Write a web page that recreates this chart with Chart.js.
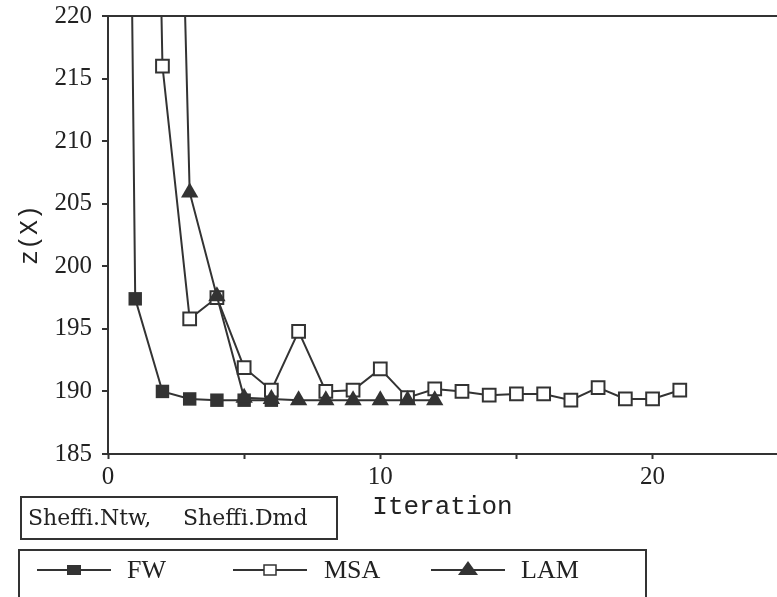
<!DOCTYPE html>
<html>
<head>
<meta charset="utf-8">
<script src="https://cdn.jsdelivr.net/npm/chart.js@4"></script>
<style>
  html, body { margin: 0; padding: 0; background: #fff; overflow: hidden; }
  #wrap { width: 777px; height: 597px; position: relative; }
  #chart { display: block; }
</style>
</head>
<body>
<div id="wrap"><canvas id="chart"></canvas></div>
<script>
// Iteration numbers and objective values z(X)
const iterFW = [0, 1, 2, 3, 4, 5, 6];
const zFW = [400, 197.4, 190.0, 189.4, 189.3, 189.3, 189.3];

const iterMSA = [1, 2, 3, 4, 5, 6, 7, 8, 9, 10, 11, 12, 13, 14, 15, 16, 17, 18, 19, 20, 21];
const zMSA = [330, 216.0, 195.8, 197.5, 191.9, 190.1, 194.8, 190.0, 190.1, 191.8, 189.5,
              190.2, 190.0, 189.7, 189.8, 189.8, 189.3, 190.3, 189.4, 189.4, 190.1];

const iterLAM = [2, 3, 4, 5, 6, 7, 8, 9, 10, 11, 12];
const zLAM = [290, 205.9, 197.6, 189.5, 189.4, 189.3, 189.3, 189.3, 189.3, 189.3, 189.3];

const xTicks = [0, 5, 10, 15, 20];
const xLabels = [0, 10, 20];
const seriesNames = ['FW', 'MSA', 'LAM'];
const caseName = ['Sheffi.Ntw,', 'Sheffi.Dmd'];

const ink = '#333';

function pts(xs, ys) {
    return xs.map((x, i) => ({ x: x, y: ys[i] }));
}

// Draws the network caption box and the legend box under the axis
const boxesPlugin = {
    id: 'boxes',
    afterDraw(chart) {
        const ctx = chart.ctx;
        ctx.save();
        ctx.strokeStyle = ink;
        ctx.lineWidth = 2;

        // caption box
        ctx.strokeRect(21, 497, 316, 42);
        ctx.fillStyle = '#222';
        ctx.font = '22px "DejaVu Serif"';
        ctx.textBaseline = 'middle';
        ctx.fillText(caseName[0], 28, 519);
        ctx.fillText(caseName[1], 183, 519);

        // legend box (runs off the bottom of the page)
        ctx.strokeRect(19, 550, 627, 80);

        const rowY = 570;
        const starts = [37, 233, 431];
        const textX = [127, 324, 521];
        chart.data.datasets.forEach((ds, i) => {
            const x0 = starts[i];
            const cx = x0 + 37;
            ctx.beginPath();
            ctx.moveTo(x0, rowY);
            ctx.lineTo(x0 + 74, rowY);
            ctx.strokeStyle = ink;
            ctx.lineWidth = 2;
            ctx.stroke();

            ctx.beginPath();
            if (ds.pointStyle === 'triangle') {
                ctx.moveTo(cx, rowY - 9);
                ctx.lineTo(cx + 10, rowY + 5);
                ctx.lineTo(cx - 10, rowY + 5);
                ctx.closePath();
                ctx.fillStyle = ink;
                ctx.fill();
            } else if (ds.pointBackgroundColor === '#fff') {
                ctx.rect(cx - 6, rowY - 5, 12, 10);
                ctx.fillStyle = '#fff';
                ctx.fill();
                ctx.lineWidth = 1.5;
                ctx.stroke();
            } else {
                ctx.rect(cx - 7, rowY - 5, 14, 10);
                ctx.fillStyle = ink;
                ctx.fill();
            }

            ctx.fillStyle = '#222';
            ctx.font = '26px "Liberation Serif"';
            ctx.textBaseline = 'middle';
            ctx.fillText(seriesNames[i], textX[i], rowY + 1);
        });
        ctx.restore();
    }
};

const chart = new Chart(document.getElementById('chart'), {
    type: 'line',
    data: {
        datasets: [
            {
                label: seriesNames[0],
                data: pts(iterFW, zFW),
                borderColor: ink,
                borderWidth: 2,
                pointStyle: 'rect',
                pointRadius: 9.5,
                pointBackgroundColor: ink,
                pointBorderColor: ink,
                pointBorderWidth: 0,
                order: 2
            },
            {
                label: seriesNames[1],
                data: pts(iterMSA, zMSA),
                borderColor: ink,
                borderWidth: 2,
                pointStyle: 'rect',
                pointRadius: 9,
                pointBackgroundColor: '#fff',
                pointBorderColor: ink,
                pointBorderWidth: 2,
                order: 1
            },
            {
                label: seriesNames[2],
                data: pts(iterLAM, zLAM),
                borderColor: ink,
                borderWidth: 2,
                pointStyle: 'triangle',
                pointRadius: 10,
                pointBackgroundColor: ink,
                pointBorderColor: ink,
                pointBorderWidth: 0,
                order: 0
            }
        ]
    },
    options: {
        responsive: true,
        maintainAspectRatio: false,
        animation: false,
        layout: { padding: 0, autoPadding: false },
        plugins: {
            legend: { display: false },
            tooltip: { enabled: false }
        },
        scales: {
            x: {
                type: 'linear',
                min: 0,
                max: 24.57,
                afterFit: s => { s.height = 143; s.paddingLeft = 0; s.paddingRight = 0; },
                afterBuildTicks: s => { s.ticks = xTicks.map(v => ({ value: v })); },
                border: { color: ink, width: 2 },
                grid: { drawOnChartArea: false, drawTicks: true, tickLength: 5, tickColor: ink, tickWidth: 2 },
                ticks: {
                    padding: 3,
                    maxRotation: 0,
                    color: '#222',
                    font: { family: '"Liberation Serif"', size: 25 },
                    callback: v => xLabels.includes(v) ? String(v) : ''
                },
                title: {
                    display: true,
                    text: 'Iteration',
                    color: '#222',
                    font: { family: '"Liberation Mono"', size: 26 },
                    padding: { top: 0, bottom: 74 }
                }
            },
            y: {
                min: 185,
                max: 220,
                afterFit: s => { s.width = 108; s.paddingTop = 16; s.paddingBottom = 0; },
                border: { color: ink, width: 2 },
                grid: {
                    drawTicks: true,
                    tickLength: 6,
                    tickColor: ink,
                    tickWidth: 2,
                    lineWidth: 2,
                    color: c => (c.tick && c.tick.value === 220) ? ink : 'rgba(0,0,0,0)'
                },
                ticks: {
                    stepSize: 5,
                    padding: 10,
                    color: '#222',
                    font: { family: '"Liberation Serif"', size: 25 }
                },
                title: {
                    display: true,
                    text: 'z(X)',
                    color: '#222',
                    font: { family: '"Liberation Mono"', size: 25 },
                    padding: { top: 15, bottom: 0 }
                }
            }
        }
    },
    plugins: [boxesPlugin]
});
</script>
</body>
</html>
